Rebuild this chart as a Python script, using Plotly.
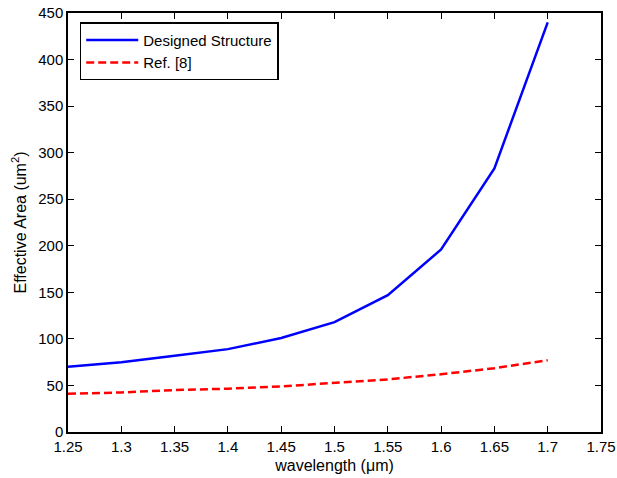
import plotly.graph_objects as go

wavelength = [1.25, 1.3, 1.35, 1.4, 1.45, 1.5, 1.55, 1.6, 1.65, 1.7]
designed = [70, 75, 82, 89, 101, 118, 147, 196, 283, 440]
ref8 = [41, 42.5, 45, 46.5, 49, 52.5, 56.5, 62, 68.5, 77]
x_ticks = [1.25, 1.3, 1.35, 1.4, 1.45, 1.5, 1.55, 1.6, 1.65, 1.7, 1.75]
x_ticklabels = ["1.25", "1.3", "1.35", "1.4", "1.45", "1.5", "1.55", "1.6", "1.65", "1.7", "1.75"]
y_ticks = list(range(0, 451, 50))

FONT = "Liberation Sans, Arial"

fig = go.Figure()
fig.add_trace(go.Scatter(x=wavelength, y=designed, mode="lines", name="Designed Structure",
                         line=dict(color="#0000ff", width=2.5)))
fig.add_trace(go.Scatter(x=wavelength, y=ref8, mode="lines", name="Ref. [8]",
                         line=dict(color="#ff0000", width=2.5, dash="8px,4px")))

axis_common = dict(showline=True, linecolor="black", linewidth=1.5, mirror="ticks",
                   ticks="inside", ticklen=6, tickcolor="black", showgrid=False, zeroline=False,
                   automargin=False,
                   tickfont=dict(family=FONT, size=15, color="black"))
fig.update_xaxes(range=[1.25, 1.75], tickvals=x_ticks, ticktext=x_ticklabels,
                 title=dict(text="wavelength (\u03bcm)", font=dict(family=FONT, size=16, color="black"), standoff=6),
                 **axis_common)
fig.update_yaxes(range=[0, 450], tickvals=y_ticks,
                 title=dict(text="Effective Area (um<sup>2</sup>)", font=dict(family=FONT, size=16, color="black"), standoff=8),
                 **axis_common)
fig.update_layout(width=617, height=478, margin=dict(l=68, r=16, t=13, b=46),
                  paper_bgcolor="white", plot_bgcolor="white",
                  legend=dict(x=0.022, y=0.978, xanchor="left", yanchor="top",
                              bgcolor="white", bordercolor="black", borderwidth=1.5,
                              font=dict(family=FONT, size=15, color="black"),
                              itemwidth=52, tracegroupgap=0),
                  showlegend=True)
fig.write_html("out.html", config={"displayModeBar": False},
               post_script="document.body.style.margin='0';document.body.style.overflow='hidden';")
